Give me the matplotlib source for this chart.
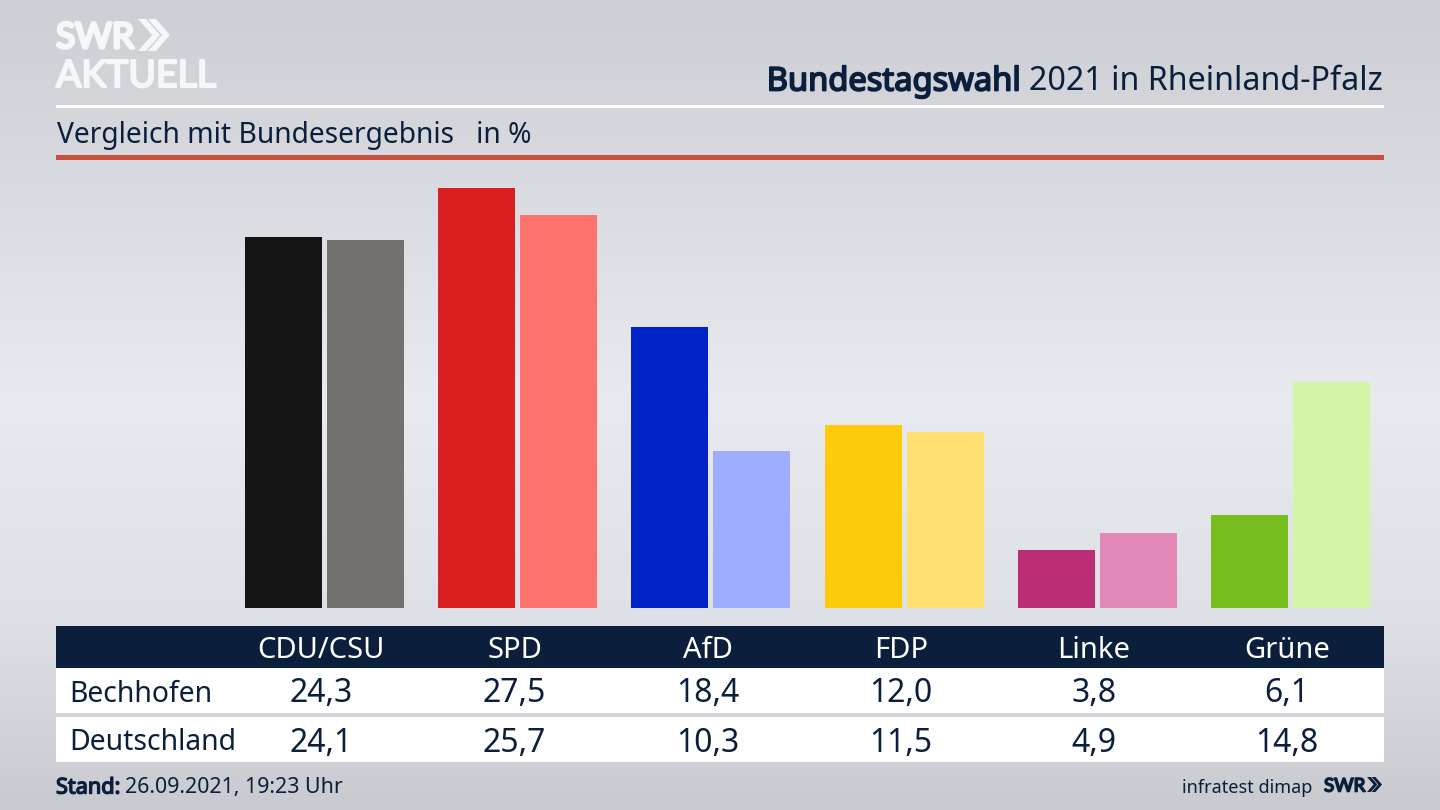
import matplotlib
matplotlib.use("Agg")
import matplotlib.pyplot as plt
import matplotlib.patheffects as pe
from matplotlib.patches import Polygon, Rectangle
import numpy as np

plt.rcParams['font.family'] = ['Noto Sans', 'DejaVu Sans']

parties = ["CDU/CSU", "SPD", "AfD", "FDP", "Linke", "Grüne"]
region_name = "Bechhofen"
country_name = "Deutschland"
region_values = [24.3, 27.5, 18.4, 12.0, 3.8, 6.1]
country_values = [24.1, 25.7, 10.3, 11.5, 4.9, 14.8]
region_colors = ["#141414", "#d7201f", "#0222c6", "#fecb0a", "#bb2d75", "#78bd1e"]
country_colors = ["#72716f", "#ff736f", "#9fadff", "#fee070", "#e088b6", "#d2f6a6"]

NAVY = "#0b1f3c"
W, H = 1440, 810

fig = plt.figure(figsize=(W / 100, H / 100), dpi=100)

# page layer in pixel coordinates, y going down like the screenshot
page = fig.add_axes([0, 0, 1, 1])
page.set_xlim(0, W)
page.set_ylim(H, 0)
page.axis("off")

# background gradient
stops_y = [0, 130, 400, 620, 810]
stops_c = [205, 213, 232, 222, 200]
grey = np.interp(np.arange(H), stops_y, stops_c)
bg = np.stack([grey, grey + 2, grey + 7], axis=1)[:, None, :] / 255
page.imshow(np.clip(bg, 0, 1), extent=(0, W, H, 0), aspect="auto", zorder=0)


def fat(color, width):
    # installed Noto/Lato come out regular when asked for bold, so thicken by stroke
    return [pe.withStroke(linewidth=width, foreground=color)]


def chevrons(x, y, h, color):
    # the two arrows of the SWR logo
    a = h * 0.25
    b = h * 0.44
    for dx in (0, a + h * 0.06):
        page.add_patch(Polygon([(x + dx, y), (x + dx + a, y), (x + dx + a + b, y + h / 2),
                                (x + dx + a, y + h), (x + dx, y + h), (x + dx + b, y + h / 2)],
                               fc=color, ec="none", zorder=3))


# logo
page.text(56, 38, "SWR", fontsize=25.5, color="#f6f7f8", va="center", ha="left", family="Lato",
          path_effects=fat("#f6f7f8", 2.2))
chevrons(138, 19, 32, "#f6f7f8")
page.text(56, 76, "AKTUELL", fontsize=27, color="#f6f7f8", va="center", ha="left", family="Lato",
          path_effects=fat("#f6f7f8", 1.6))

# title
t2 = page.text(1383, 82, "2021 in Rheinland-Pfalz", fontsize=23.2, color=NAVY, ha="right", va="center")
fig.canvas.draw()
bb = t2.get_window_extent()
page.text(bb.x0 - 9, 82, "Bundestagswahl", fontsize=23.5, color=NAVY, ha="right", va="center",
          path_effects=fat(NAVY, 1.3))
page.add_patch(Rectangle((56, 104.5), 1328, 3, fc="white", ec="none", zorder=2))
page.text(57, 135, "Vergleich mit Bundesergebnis   in %", fontsize=20.3, color=NAVY, ha="left", va="center")
page.add_patch(Rectangle((56, 155), 1328, 5, fc="#c8503c", ec="none", zorder=2))

# bars: 193.2 px per group, 15.28 px per percentage point, baseline at y=608
bars = fig.add_axes([56 / W, (H - 608) / H, 1328 / W, 448 / H])
bars.patch.set_alpha(0)
bars.set_xlim((56 - 324.5) / 193.2, (1384 - 324.5) / 193.2)
bars.set_ylim(0, 448 / 15.28)
bars.axis("off")
pos = np.arange(len(parties))
bars.bar(pos - 41 / 193.2, region_values, width=77 / 193.2, color=region_colors)
bars.bar(pos + 41 / 193.2, country_values, width=77 / 193.2, color=country_colors)

# table
page.add_patch(Rectangle((56, 626), 1328, 42, fc=NAVY, ec="none", zorder=2))
page.add_patch(Rectangle((56, 668), 1328, 45, fc="white", ec="none", zorder=2))
page.add_patch(Rectangle((56, 717), 1328, 45, fc="white", ec="none", zorder=2))

col_x = [321, 514.5, 708, 901, 1094, 1287]
for x, party, v1, v2 in zip(col_x, parties, region_values, country_values):
    page.text(x, 650, party, fontsize=21, color="white", ha="center", va="center", zorder=4)
    page.text(x, 694, f"{v1:.1f}".replace(".", ","), fontsize=23, color=NAVY, ha="center", va="center", zorder=4)
    page.text(x, 743, f"{v2:.1f}".replace(".", ","), fontsize=23, color=NAVY, ha="center", va="center", zorder=4)
page.text(69, 694, region_name, fontsize=20.4, color=NAVY, ha="left", va="center", zorder=4)
page.text(69, 743, country_name, fontsize=20.4, color=NAVY, ha="left", va="center", zorder=4)

# footer
st = page.text(56, 788, "Stand:", fontsize=15.6, color=NAVY, ha="left", va="center", path_effects=fat(NAVY, 1.0))
fig.canvas.draw()
page.text(st.get_window_extent().x1 + 5, 788, "26.09.2021, 19:23 Uhr", fontsize=15.4, color=NAVY, ha="left",
          va="center")
page.text(1312, 788, "infratest dimap", fontsize=13, color=NAVY, ha="right", va="center")
page.text(1324, 786, "SWR", fontsize=13.5, color=NAVY, ha="left", va="center", family="Lato",
          path_effects=fat(NAVY, 1.2))
chevrons(1367, 777, 15, NAVY)

fig.savefig("out.png", dpi=100)
